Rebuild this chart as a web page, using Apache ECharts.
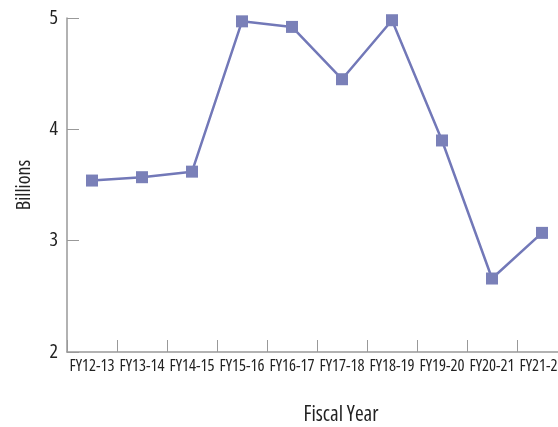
<!DOCTYPE html>
<html>
<head>
<meta charset="utf-8">
<script src="https://cdn.jsdelivr.net/npm/echarts@6/dist/echarts.min.js"></script>
<style>html,body{margin:0;padding:0;background:#fff}#c{width:558px;height:427px}</style>
</head>
<body>
<div id="c"></div>
<script>
const categories = ["FY12-13","FY13-14","FY14-15","FY15-16","FY16-17","FY17-18","FY18-19","FY19-20","FY20-21","FY21-22"];
const values = [3.54, 3.57, 3.62, 4.97, 4.92, 4.45, 4.98, 3.90, 2.66, 3.07];
const yTicks = [2, 3, 4, 5];

const FONT = '"Open Sans", "Roboto Condensed", sans-serif';
const TS = {fontFamily: FONT, fontStyle: 'normal', fontWeight: 'condensed', color: '#222'};
const chart = echarts.init(document.getElementById('c'), null, {renderer: 'canvas'});
chart.setOption({
  animation: false,
  grid: {left: 67, top: 18, width: 500, height: 334, containLabel: false, outerBoundsMode: 'none'},
  xAxis: {
    type: 'category',
    data: categories,
    boundaryGap: true,
    name: 'Fiscal Year',
    nameLocation: 'middle',
    nameGap: 53,
    nameTextStyle: Object.assign({}, TS, {fontSize: 21, padding: [0, 0, 0, 48]}),
    axisLine: {lineStyle: {color: '#999', width: 1.5}},
    axisTick: {show: true, inside: true, length: 12, lineStyle: {color: '#999'}},
    axisLabel: Object.assign({}, TS, {fontSize: 16.5, margin: 6, interval: 0})
  },
  yAxis: {
    type: 'value',
    min: yTicks[0],
    max: yTicks[yTicks.length - 1],
    interval: 1,
    name: 'Billions',
    nameLocation: 'middle',
    nameGap: 33,
    nameRotate: 90,
    nameTextStyle: Object.assign({}, TS, {fontSize: 20}),
    axisLine: {show: true, lineStyle: {color: '#999', width: 1.5}},
    axisTick: {show: true, inside: true, length: 12, lineStyle: {color: '#999'}},
    axisLabel: Object.assign({}, TS, {fontSize: 20, margin: 9}),
    splitLine: {show: false}
  },
  series: [{
    type: 'line',
    data: values,
    symbol: 'rect',
    symbolSize: 12,
    showAllSymbol: true,
    lineStyle: {color: '#7278b8', width: 2.5},
    itemStyle: {color: '#7a80b8'}
  }]
});
</script>
</body>
</html>
